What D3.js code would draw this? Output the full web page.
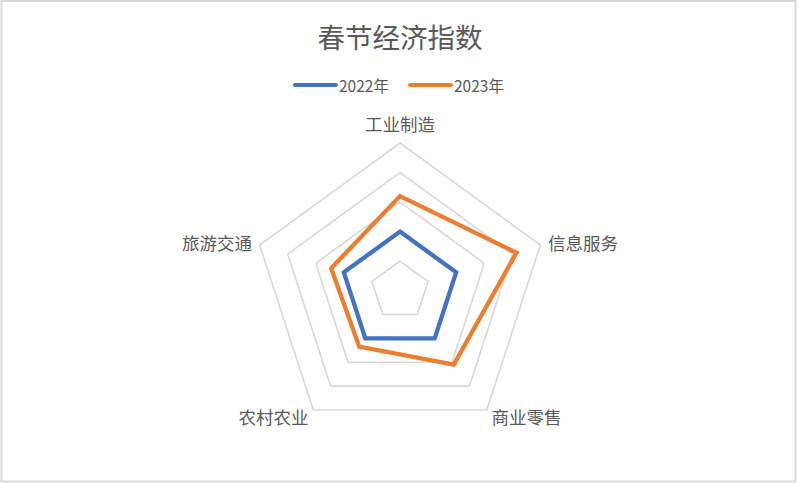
<!DOCTYPE html>
<html>
<head>
<meta charset="utf-8">
<script src="https://cdn.jsdelivr.net/npm/d3@7"></script>
<style>
  body { margin: 0; background: #fff; }
  text { font-family: "Noto Sans CJK SC", "Noto Sans", sans-serif; fill: #595959; }
</style>
</head>
<body>
<div id="chart"></div>
<script>
// data
var categories = ["工业制造", "信息服务", "商业零售", "农村农业", "旅游交通"];
var seriesNames = ["2022年", "2023年"];
var values2022 = [2, 2, 2, 2, 2];
var values2023 = [3.2, 4.15, 3.1, 2.35, 2.45];
var gridLevels = [1, 2, 3, 4, 5];
var colors = ["#4472C4", "#ED7D31"];

var width = 798, height = 484;
var cx = 400, cy = 290.6, R = 147.6;

var svg = d3.select("#chart").append("svg")
    .attr("width", width)
    .attr("height", height);

// chart border
svg.append("rect")
    .attr("x", 1.5).attr("y", 1)
    .attr("width", 794).attr("height", 480.5)
    .attr("fill", "#fff")
    .attr("stroke", "#d9d9d9")
    .attr("stroke-width", 2);

var r = d3.scaleLinear().domain([0, 5]).range([0, R]);
var angle = d3.scalePoint().domain(categories).range([0, 2 * Math.PI * 4 / 5]);

var g = svg.append("g").attr("transform", `translate(${cx},${cy})`);

var radial = d3.lineRadial()
    .angle(d => angle(d.cat))
    .radius(d => r(d.v))
    .curve(d3.curveLinearClosed);

// grid pentagons
g.selectAll(".grid")
    .data(gridLevels)
    .enter()
    .append("path")
    .attr("d", lvl => radial(categories.map(c => ({cat: c, v: lvl}))))
    .attr("fill", "none")
    .attr("stroke", "#d9d9d9")
    .attr("stroke-width", 1.6);

// series
var series = [values2022, values2023];
g.selectAll(".series")
    .data(series)
    .enter()
    .append("path")
    .attr("d", vals => radial(vals.map((v, i) => ({cat: categories[i], v: v}))))
    .attr("fill", "none")
    .attr("stroke", (d, i) => colors[i])
    .attr("stroke-width", 4.3)
    .attr("stroke-linejoin", "miter");

// category labels
g.selectAll(".label")
    .data(categories)
    .enter()
    .append("text")
    .attr("x", c => (R + 8) * Math.sin(angle(c)))
    .attr("y", c => -(R + 8) * Math.cos(angle(c)) + (Math.cos(angle(c)) > 0.9 ? -12 : 0))
    .attr("dominant-baseline", "central")
    .attr("text-anchor", c => {
        var s = Math.sin(angle(c));
        return Math.abs(s) < 0.1 ? "middle" : (s > 0 ? "start" : "end");
    })
    .style("font-size", "17.5px")
    .text(c => c);

// title
svg.append("text")
    .attr("x", 400).attr("y", 36)
    .attr("text-anchor", "middle")
    .attr("dominant-baseline", "central")
    .style("font-size", "27.5px")
    .text("春节经济指数");

// legend
var legendX = [295, 410];
var legend = svg.selectAll(".legend")
    .data(seriesNames)
    .enter()
    .append("g")
    .attr("transform", (d, i) => `translate(${legendX[i]},85)`);

legend.append("line")
    .attr("x1", 0).attr("x2", 41)
    .attr("stroke", (d, i) => colors[i])
    .attr("stroke-width", 4)
    .attr("stroke-linecap", "round");

legend.append("text")
    .attr("x", 44)
    .attr("dominant-baseline", "central")
    .style("font-size", "15.5px")
    .text(d => d);
</script>
</body>
</html>
